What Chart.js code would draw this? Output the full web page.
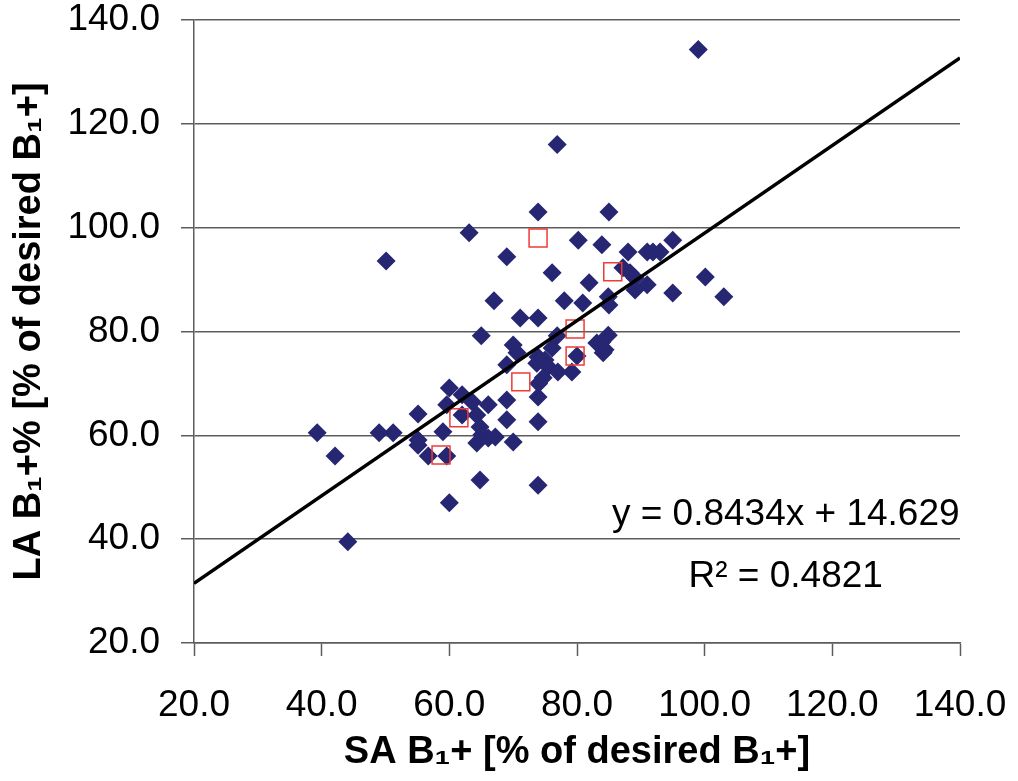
<!DOCTYPE html>
<html>
<head>
<meta charset="utf-8">
<script src="https://cdn.jsdelivr.net/npm/chart.js@4/dist/chart.umd.min.js"></script>
<style>
    body { margin: 0; background: #fff; }
    canvas { display: block; }
</style>
</head>
<body>
<canvas id="scatter" width="1018" height="781"></canvas>
<script>
// SA B1+ (x) vs LA B1+ (y), in vivo points
const saVivo = [
    99.0, 76.9, 73.9, 85.0, 63.1, 50.1, 69.0, 80.2, 83.9, 88.0,
    91.0, 91.9, 93.0, 95.0, 76.1, 81.9, 87.2, 88.3, 89.1, 91.0,
    89.1, 95.0, 100.1, 103.0, 67.0, 78.0, 80.9, 84.9, 85.0, 71.1,
    73.9, 65.0, 76.9, 84.9, 83.1, 83.9, 84.4, 84.1, 70.0, 70.6,
    76.1, 73.9, 75.0, 73.7, 80.0, 69.0, 75.5, 77.0, 79.2, 74.7,
    74.0, 73.9, 69.0, 60.0, 62.0, 63.6, 59.6, 66.1, 62.0, 55.1,
    64.3, 64.8, 65.1, 66.1, 67.2, 64.3, 69.0, 73.9, 70.0, 59.0,
    39.3, 42.1, 49.0, 51.2, 55.1, 55.1, 56.7, 59.6, 64.8, 73.9,
    60.0, 44.1
];
const laVivo = [
    134.3, 116.0, 103.0, 103.0, 99.0, 93.6, 94.4, 97.6, 96.7, 95.3,
    95.3, 95.3, 95.3, 97.6, 91.3, 89.4, 92.3, 91.3, 90.3, 89.0,
    88.0, 87.4, 90.5, 86.7, 85.9, 85.9, 85.5, 86.7, 85.1, 82.6,
    82.6, 79.2, 79.2, 79.3, 77.8, 78.0, 76.5, 75.9, 77.4, 75.9,
    76.8, 75.1, 74.5, 73.9, 75.3, 73.6, 73.2, 72.2, 72.2, 71.1,
    70.0, 67.4, 66.8, 69.1, 67.8, 66.4, 65.9, 65.9, 63.9, 64.1,
    63.9, 61.6, 60.1, 59.5, 59.7, 58.5, 63.0, 62.6, 58.7, 60.7,
    60.5, 56.0, 60.5, 60.5, 59.1, 58.1, 56.0, 56.0, 51.4, 50.4,
    47.0, 39.5
];

// open red squares
const saRed = [73.9, 85.6, 79.7, 79.7, 71.2, 61.5, 58.7];
const laRed = [98.0, 91.5, 80.5, 75.3, 70.3, 63.4, 56.2];

// linear fit shown on the chart
const slope = 0.8434;
const intercept = 14.629;
const rSquared = 0.4821;

const axisMin = 20;
const axisMax = 140;
const axisStep = 20;

const fontFamily = '"Liberation Sans", Arial, Helvetica, sans-serif';

const toPoints = (xs, ys) => xs.map((x, i) => ({ x: x, y: ys[i] }));
const trendPoints = [axisMin, axisMax].map(x => ({ x: x, y: slope * x + intercept }));

const gridColor = '#5c5c5c';

// fit equation, placed in data units under the line
const fitLabel = {
    id: 'fitLabel',
    afterDatasetsDraw(chart) {
        const { ctx, scales } = chart;
        const cx = scales.x.getPixelForValue(112.7);
        ctx.save();
        ctx.fillStyle = '#000';
        ctx.textAlign = 'center';
        ctx.textBaseline = 'alphabetic';
        ctx.font = '37px ' + fontFamily;
        ctx.fillText('y = ' + slope + 'x + ' + intercept, cx, scales.y.getPixelForValue(42.7));
        ctx.fillText('R\u00B2 = ' + rSquared, cx, scales.y.getPixelForValue(30.8));
        ctx.restore();
    }
};

const ctx = document.getElementById('scatter').getContext('2d');

const myChart = new Chart(ctx, {
    type: 'scatter',
    data: {
        datasets: [
            {
                label: 'fit',
                data: trendPoints,
                showLine: true,
                borderColor: '#000',
                borderWidth: 3.5,
                pointRadius: 0,
                order: 0,
            },
            {
                label: 'red',
                data: toPoints(saRed, laRed),
                pointStyle: 'rect',
                pointRadius: 12.7,
                backgroundColor: 'rgba(0,0,0,0)',
                borderColor: '#ee3b36',
                borderWidth: 1.5,
                order: 1,
            },
            {
                label: 'vivo',
                data: toPoints(saVivo, laVivo),
                pointStyle: 'rectRot',
                pointRadius: 9.5,
                backgroundColor: '#262672',
                borderColor: '#262672',
                borderWidth: 0,
                order: 2,
            },
        ],
    },
    options: {
        responsive: false,
        animation: false,
        events: [],
        layout: {
            padding: { top: 20, right: 58, bottom: 0, left: 0 },
        },
        plugins: {
            legend: { display: false },
            tooltip: { enabled: false },
        },
        scales: {
            x: {
                type: 'linear',
                min: axisMin,
                max: axisMax,
                afterFit: (scale) => {
                    scale.height = 138;
                    scale.paddingLeft = 0;
                    scale.paddingRight = 0;
                },
                grid: {
                    drawOnChartArea: false,
                    drawTicks: true,
                    tickLength: 13,
                    tickColor: gridColor,
                    tickWidth: 1.5,
                },
                border: { display: true, color: gridColor, width: 1.5 },
                ticks: {
                    stepSize: axisStep,
                    padding: 28,
                    color: '#000',
                    maxRotation: 0,
                    font: { family: fontFamily, size: 37 },
                    callback: function (val) {
                        return val.toFixed(1);
                    },
                },
                title: {
                    display: true,
                    text: 'SA B\u2081+ [% of desired B\u2081+]',
                    color: '#000',
                    font: { family: fontFamily, size: 38, weight: 'bold' },
                    padding: { top: 0, bottom: 6 },
                },
            },
            y: {
                type: 'linear',
                min: axisMin,
                max: axisMax,
                afterFit: (scale) => {
                    scale.width = 194;
                    scale.paddingTop = 0;
                    scale.paddingBottom = 0;
                },
                grid: {
                    color: gridColor,
                    lineWidth: 1.5,
                    drawTicks: true,
                    tickLength: 13,
                    tickColor: gridColor,
                    tickWidth: 1.5,
                },
                border: { display: true, color: gridColor, width: 1.5 },
                ticks: {
                    stepSize: axisStep,
                    padding: 21,
                    color: '#000',
                    font: { family: fontFamily, size: 37, lineHeight: 1.0 },
                    callback: function (val) {
                        return val.toFixed(1);
                    },
                },
                title: {
                    display: true,
                    text: 'LA B\u2081+% [% of desired B\u2081+]',
                    color: '#000',
                    font: { family: fontFamily, size: 38, weight: 'bold' },
                    padding: { top: 7, bottom: 0 },
                },
            },
        },
    },
    plugins: [fitLabel],
});
</script>
</body>
</html>
